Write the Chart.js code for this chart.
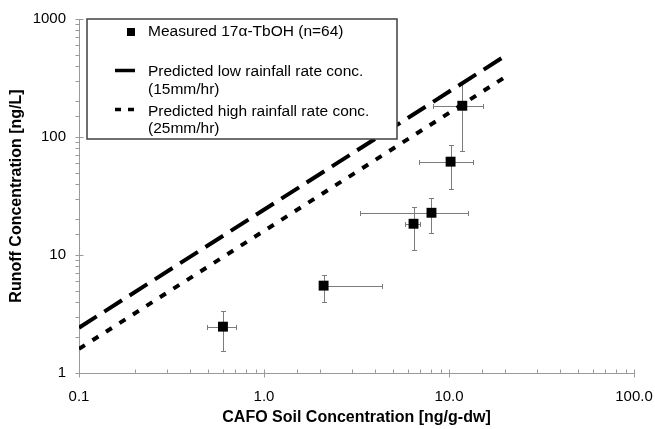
<!DOCTYPE html>
<html><head><meta charset="utf-8">
<script src="https://cdn.jsdelivr.net/npm/chart.js@4/dist/chart.umd.min.js"></script>
<style>html,body{margin:0;padding:0;background:#fff}</style>
</head><body>
<canvas id="c" width="655" height="429"></canvas>
<script>
// ---- data ----
const soilConc   = [0.60, 2.10, 6.43, 8.04, 10.2, 11.8];
const soilLow    = [0.49, 2.10, 5.75, 3.32, 6.92, 8.24];
const soilHigh   = [0.71, 4.37, 7.01, 12.7, 13.4, 15.3];
const runoffConc = [2.47, 5.5, 18.4, 22.8, 61.8, 184];
const runoffLow  = [1.54, 4.0, 11.1, 15.5, 36.5, 76.5];
const runoffHigh = [3.37, 6.8, 25.7, 30.6, 86.1, 294];
const predX      = [0.1, 20];
const predLowY   = [2.42, 484];
const predHighY  = [1.6, 320];
const xTickValues = [0.1, 1, 10, 100];
const xTickLabels = ['0.1', '1.0', '10.0', '100.0'];
const yTickValues = [1, 10, 100, 1000];
const yTickLabels = ['1', '10', '100', '1000'];
const seriesNames = ['Measured 17\u03B1-TbOH (n=64)',
  ['Predicted low rainfall rate conc.', '(15mm/hr)'],
  ['Predicted high rainfall rate conc.', '(25mm/hr)']];

const FONT = '"Liberation Sans", Arial, sans-serif';
const AXIS = '#9a9a9a';

function labelFor(values, labels, v) {
  for (let i = 0; i < values.length; i++) {
    if (Math.abs(Math.log10(v) - Math.log10(values[i])) < 1e-6) return labels[i];
  }
  return '';
}

const errorBars = {
  id: 'errorBars',
  beforeDatasetsDraw(chart) {
    const {ctx, scales: {x, y}} = chart;
    ctx.save();
    ctx.strokeStyle = '#7c7c7c';
    ctx.lineWidth = 1;
    const cap = 2.5;
    for (let i = 0; i < soilConc.length; i++) {
      const px = Math.round(x.getPixelForValue(soilConc[i])) + 0.5;
      const py = Math.round(y.getPixelForValue(runoffConc[i])) + 0.5;
      const xl = Math.round(x.getPixelForValue(soilLow[i])) + 0.5;
      const xh = Math.round(x.getPixelForValue(soilHigh[i])) + 0.5;
      const yl = Math.round(y.getPixelForValue(runoffLow[i])) + 0.5;
      const yh = Math.round(y.getPixelForValue(runoffHigh[i])) + 0.5;
      ctx.beginPath();
      ctx.moveTo(xl, py); ctx.lineTo(xh, py);
      if (soilLow[i] < soilConc[i]) { ctx.moveTo(xl, py - cap); ctx.lineTo(xl, py + cap); }
      if (soilHigh[i] > soilConc[i]) { ctx.moveTo(xh, py - cap); ctx.lineTo(xh, py + cap); }
      ctx.moveTo(px, yl); ctx.lineTo(px, yh);
      ctx.moveTo(px - cap, yl); ctx.lineTo(px + cap, yl);
      ctx.moveTo(px - cap, yh); ctx.lineTo(px + cap, yh);
      ctx.stroke();
    }
    ctx.restore();
  }
};

const axesPlugin = {
  id: 'axesPlugin',
  beforeDatasetsDraw(chart) {
    const {ctx, chartArea: a, scales: {x, y}} = chart;
    ctx.save();
    ctx.strokeStyle = AXIS;
    ctx.lineWidth = 1;
    const L = Math.round(a.left) + 0.5, B = Math.round(a.bottom) + 0.5;
    ctx.beginPath();
    ctx.moveTo(L, Math.round(a.top)); ctx.lineTo(L, B);
    ctx.lineTo(Math.round(a.right) + 1, B);
    x.ticks.forEach(t => {
      const px = Math.round(x.getPixelForValue(t.value)) + 0.5;
      if (labelFor(xTickValues, xTickLabels, t.value)) { ctx.moveTo(px, B - 4); ctx.lineTo(px, B + 4); }
      else { ctx.moveTo(px, B - 4); ctx.lineTo(px, B); }
    });
    y.ticks.forEach(t => {
      const py = Math.round(y.getPixelForValue(t.value)) + 0.5;
      if (labelFor(yTickValues, yTickLabels, t.value)) { ctx.moveTo(L - 4, py); ctx.lineTo(L + 4, py); }
      else { ctx.moveTo(L - 4, py); ctx.lineTo(L, py); }
    });
    ctx.stroke();
    ctx.restore();
  }
};

const legendPlugin = {
  id: 'legendBox',
  afterDraw(chart) {
    const {ctx} = chart;
    ctx.save();
    const bx = 87, by = 19, bw = 310, bh = 120;
    ctx.fillStyle = '#fff';
    ctx.fillRect(bx, by, bw, bh);
    ctx.strokeStyle = '#404040';
    ctx.lineWidth = 1.5;
    ctx.strokeRect(bx, by, bw, bh);
    // symbols
    ctx.fillStyle = '#000';
    ctx.fillRect(127, 28, 8, 8);
    ctx.strokeStyle = '#000';
    ctx.lineWidth = 3.5;
    ctx.beginPath(); ctx.moveTo(115, 70.5); ctx.lineTo(135, 70.5); ctx.stroke();
    ctx.beginPath(); ctx.moveTo(115, 109.5); ctx.lineTo(121, 109.5);
    ctx.moveTo(128, 109.5); ctx.lineTo(134, 109.5); ctx.stroke();
    // text
    ctx.font = '15.5px ' + FONT;
    ctx.textBaseline = 'middle';
    ctx.textAlign = 'left';
    ctx.fillText(seriesNames[0], 148, 32);
    ctx.fillText(seriesNames[1][0], 148, 72);
    ctx.fillText(seriesNames[1][1], 148, 90);
    ctx.fillText(seriesNames[2][0], 148, 112);
    ctx.fillText(seriesNames[2][1], 148, 129);
    ctx.restore();
  }
};

new Chart(document.getElementById('c'), {
  type: 'scatter',
  data: {
    datasets: [
      {
        label: 'Measured',
        data: soilConc.map((v, i) => ({x: v, y: runoffConc[i]})),
        pointStyle: 'rect', pointRadius: 7, pointHoverRadius: 7,
        backgroundColor: '#000', borderColor: '#000', borderWidth: 0,
        showLine: false
      },
      {
        label: 'Low',
        type: 'line',
        data: predX.map((v, i) => ({x: v, y: predLowY[i]})),
        borderColor: '#000', borderWidth: 4, borderDash: [21, 9],
        pointRadius: 0, fill: false, tension: 0, borderCapStyle: 'butt'
      },
      {
        label: 'High',
        type: 'line',
        data: predX.map((v, i) => ({x: v, y: predHighY[i]})),
        borderColor: '#000', borderWidth: 4, borderDash: [7, 9],
        pointRadius: 0, fill: false, tension: 0, borderCapStyle: 'butt'
      }
    ]
  },
  options: {
    responsive: false, animation: false, devicePixelRatio: 1,
    layout: {padding: {top: 19, right: 0, left: 0, bottom: 0}},
    plugins: {legend: {display: false}, tooltip: {enabled: false}},
    scales: {
      x: {
        type: 'logarithmic', min: 0.1, max: 100, position: 'bottom',
        grid: {display: false, drawTicks: false}, border: {display: false},
        afterFit(s) { s.height = 56; s.paddingRight = 21; s.paddingLeft = 0; },
        ticks: {
          autoSkip: false, maxRotation: 0, padding: 15, color: '#000',
          font: {family: FONT, size: 15},
          callback: (v) => labelFor(xTickValues, xTickLabels, v)
        },
        title: {display: true, text: 'CAFO Soil Concentration [ng/g-dw]', color: '#000',
          font: {family: FONT, size: 16, weight: 'bold'}, padding: {top: 0, bottom: 2}}
      },
      y: {
        type: 'logarithmic', min: 1, max: 1000,
        grid: {display: false, drawTicks: false}, border: {display: false},
        afterFit(s) { s.width = 79; s.paddingTop = 0; s.paddingBottom = 0; },
        ticks: {
          autoSkip: false, padding: 13, color: '#000',
          font: {family: FONT, size: 15},
          callback: (v) => labelFor(yTickValues, yTickLabels, v)
        },
        title: {display: true, text: 'Runoff Concentration [ng/L]', color: '#000',
          font: {family: FONT, size: 16, weight: 'bold'}, padding: {top: 7, bottom: 0}}
      }
    }
  },
  plugins: [axesPlugin, errorBars, legendPlugin]
});
</script>
</body></html>
